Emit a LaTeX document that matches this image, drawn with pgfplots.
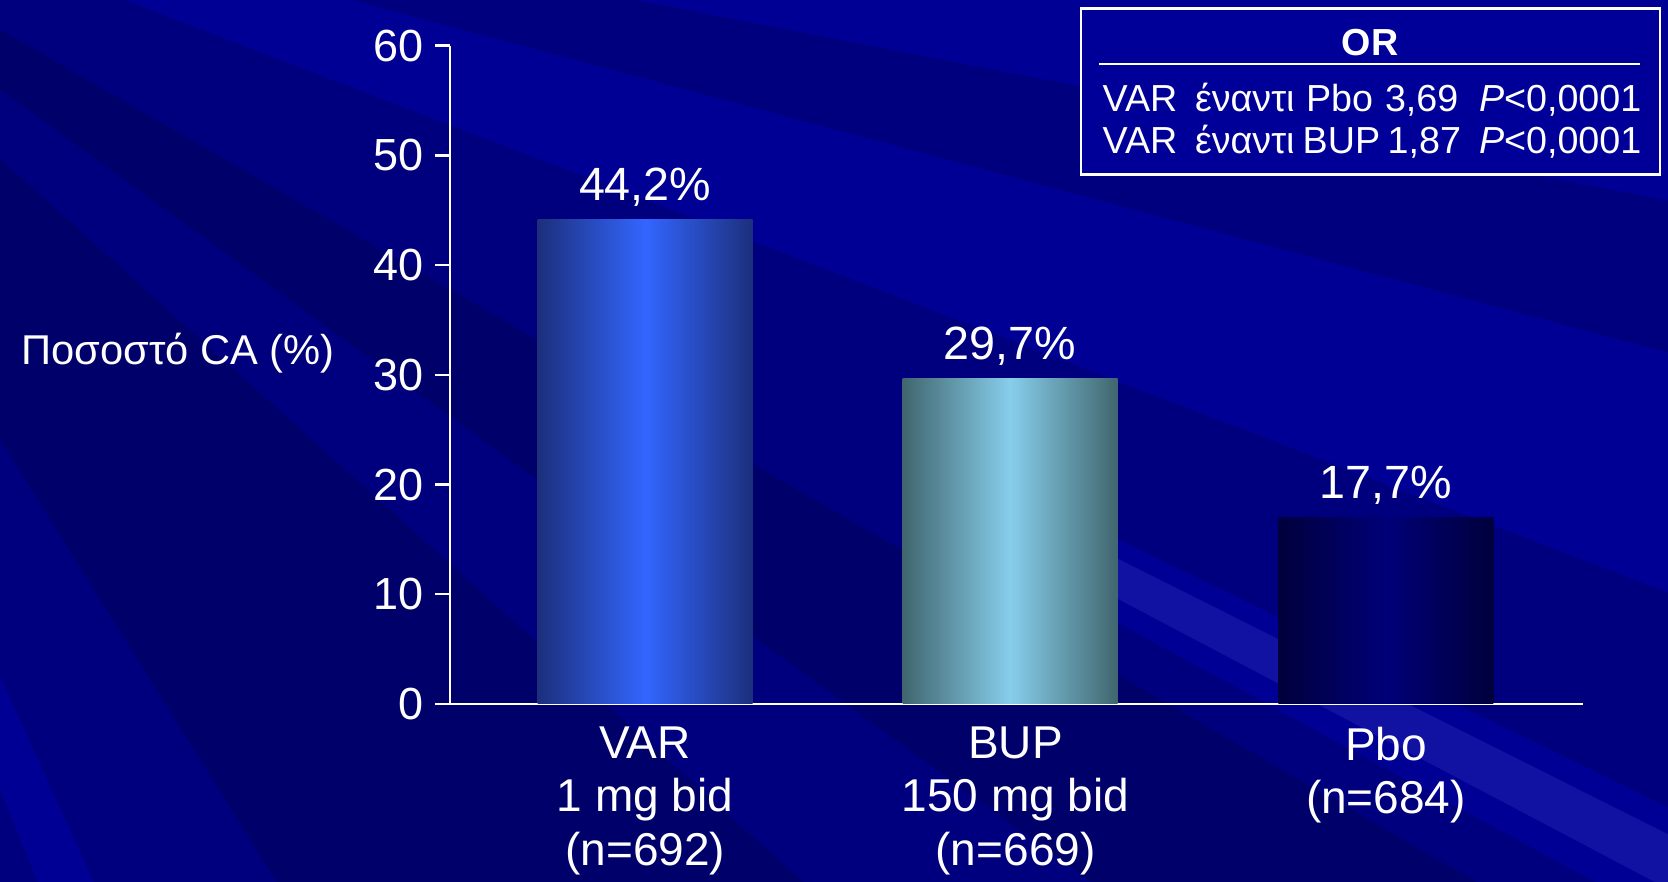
\documentclass[border=0pt]{standalone}
\usepackage{fontspec}
\setmainfont{Liberation Sans}
\usepackage{pgfplots}
\pgfplotsset{compat=1.18}

\definecolor{bgbase}{HTML}{00007E}
\definecolor{bgdark}{HTML}{00006A}
\definecolor{bglight}{HTML}{000094}
\definecolor{bglighter}{HTML}{1212A2}
\definecolor{orbox}{HTML}{000099}
\definecolor{varedge}{HTML}{1C2F7C}
\definecolor{varmid}{HTML}{3366FF}
\definecolor{bupedge}{HTML}{40666E}
\definecolor{bupmid}{HTML}{87CEEB}
\definecolor{pboedge}{HTML}{00003C}
\definecolor{pbomid}{HTML}{000078}

\begin{document}
\begin{tikzpicture}
\useasboundingbox (0pt,0pt) rectangle (500.4pt,264.6pt);

% background with streaks
\begin{scope}
  \clip (0pt,0pt) rectangle (500.4pt,264.6pt);
  \fill[bgbase] (0pt,0pt) rectangle (500.4pt,264.6pt);
  \coordinate (F) at (-120pt,325pt);
  \fill[bgdark]    (F) -- +(-58:1500pt) -- +(-42:1500pt) -- cycle;
  \fill[bgdark]    (F) -- +(-36:1500pt) -- +(-30:1500pt) -- cycle;
  \fill[bglight]   (F) -- +(-21:1500pt) -- +(-15:1500pt) -- cycle;
  \fill[bglight]   (F) -- +(-11:1500pt) -- +(-2:1500pt) -- cycle;
  \fill[bglight]   (F) -- +(-68:1500pt) -- +(-65.5:1500pt) -- cycle;
  \begin{scope}
    \clip (300pt,0pt) rectangle (500.4pt,264.6pt);
    \fill[bglight]   (F) -- +(-28.5:1500pt) -- +(-26:1500pt) -- cycle;
    \fill[bglighter] (F) -- +(-27.8:1500pt) -- +(-26.6:1500pt) -- cycle;
  \end{scope}
\end{scope}

\begin{axis}[
  at={(135pt,53.4pt)}, anchor=south west,
  scale only axis, width=339.9pt, height=197.5pt,
  xmin=-0.527, xmax=2.532, ymin=0, ymax=60,
  axis lines*=left,
  axis line style={white, line width=0.7pt},
  ytick={0,10,...,60},
  xtick={0,1,2},
  xticklabels={{VAR\\1 mg bid\\(n=692)},{BUP\\150 mg bid\\(n=669)},{Pbo\\(n=684)}},
  xticklabel style={align=center, text=white,
    font=\fontsize{13.8}{16}\selectfont, anchor=north, yshift=1.2pt},
  x tick style={draw=none},
  y tick style={white, line width=0.7pt},
  tick align=outside, major tick length=4.5pt,
  yticklabel style={text=white, font=\fontsize{13.5}{16}\selectfont},
  /pgf/number format/assume math mode=true,
  ybar, bar width=64.5pt,
  point meta=explicit,
  nodes near coords={\pgfmathprintnumber[fixed,precision=1,use comma]{\pgfplotspointmeta}\%},
  every node near coord/.append style={text=white,
    font=\fontsize{14}{16}\selectfont, anchor=base, yshift=5.7pt},
]
\addplot[draw=none, bar shift=0pt, left color=varedge, right color=varedge, middle color=varmid]
  coordinates {(0,44.2) [44.2]};
\addplot[draw=none, bar shift=0pt, left color=bupedge, right color=bupedge, middle color=bupmid]
  coordinates {(0.985,29.7) [29.7]};
\addplot[draw=none, bar shift=0pt, left color=pboedge, right color=pboedge, middle color=pbomid]
  coordinates {(2,17.0) [17.7]};
\end{axis}

% y label
\node[text=white, font=\fontsize{12.5}{15}\selectfont, anchor=base] at (53.4pt,155.1pt) {Ποσοστό CA (\%)};

% OR box
\draw[white, line width=0.7pt, fill=orbox] (324.3pt,212.2pt) rectangle (498pt,262pt);
\node[text=white, font=\bfseries\fontsize{11.3}{13}\selectfont, anchor=base] at (411pt,248pt) {OR};
\draw[white, line width=0.7pt] (329.7pt,245.4pt) -- (492pt,245.4pt);
\begin{scope}[every node/.style={text=white, font=\fontsize{11.3}{13}\selectfont, anchor=base west, inner sep=0pt}]
  \node at (330.6pt,231pt) {VAR};
  \node at (358.3pt,231pt) {έναντι};
  \node at (391.6pt,231pt) {Pbo};
  \node at (415.3pt,231pt) {3,69};
  \node at (443.5pt,231pt) {\textit{P}<0,0001};
  \node at (330.6pt,218.4pt) {VAR};
  \node at (358.3pt,218.4pt) {έναντι};
  \node at (390.6pt,218.4pt) {BUP};
  \node at (416.1pt,218.4pt) {1,87};
  \node at (443.5pt,218.4pt) {\textit{P}<0,0001};
\end{scope}
\end{tikzpicture}
\end{document}
